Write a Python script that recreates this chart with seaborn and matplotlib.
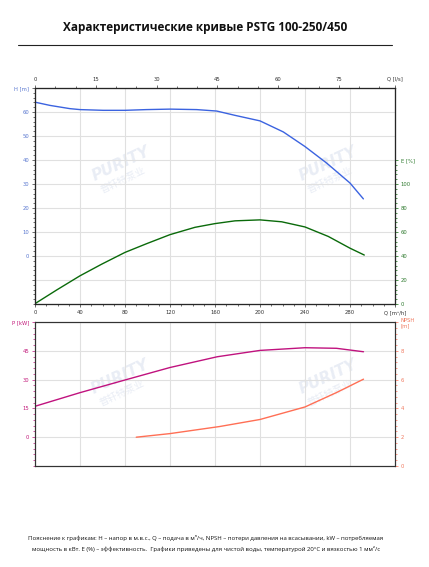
import matplotlib
matplotlib.use("Agg")
import matplotlib.pyplot as plt
from matplotlib.ticker import MultipleLocator, FixedLocator
from matplotlib.lines import Line2D
import seaborn as sns
import pandas as pd

# ---------------- data ----------------
q_h = [0, 13.3, 31, 40, 60.7, 80, 99, 120, 143.7, 161.5, 177.8, 200, 220.7, 240, 259.3, 280, 291.9]
h_m = [64.1, 62.75, 61.4, 61.0, 60.7, 60.7, 61.0, 61.2, 61.0, 60.4, 58.6, 56.3, 51.7, 45.6, 38.7, 30.4, 23.8]

q_e = [0, 19.3, 40, 59.3, 80, 99.3, 120, 142.2, 160, 177.8, 200, 219.3, 240, 260.7, 280, 292.7]
e_pct = [0.3, 11.7, 23.5, 33.2, 43.0, 50.3, 57.8, 63.9, 67.0, 69.3, 70.1, 68.5, 64.2, 56.3, 46.5, 40.8]

q_p = [0, 40, 80, 120, 162, 200, 240, 268, 292]
p_kw = [16.1, 23.2, 29.8, 36.3, 41.9, 45.2, 46.6, 46.3, 44.5]

q_n = [90, 120, 164, 200, 240, 268, 292]
npsh_m = [2.0, 2.25, 2.74, 3.23, 4.1, 5.1, 6.03]

q_ticks = [0, 40, 80, 120, 160, 200, 240, 280]
ls_ticks = [0, 15, 30, 45, 60, 75]
h_ticks = [0, 10, 20, 30, 40, 50, 60]
e_ticks = [0, 20, 40, 60, 80, 100]
p_ticks = [0, 15, 30, 45]
n_ticks = [0, 2, 4, 6, 8]

title = "Характеристические кривые PSTG 100-250/450"
foot1 = ("Пояснение к графикам: H – напор в м.в.с., Q – подача в м³/ч, NPSH – потери давления "
         "на всасывании, kW – потребляемая")
foot2 = ("мощность в кВт. E (%) – эффективность.  Графики приведены для чистой воды, "
         "температурой 20°C и вязкостью 1 мм²/с")

# ---------------- style ----------------
sns.set_style("white")
plt.rcParams["font.family"] = ["DejaVu Sans"]

C_H = "#3b63e0"
C_E = "#0a6a0a"
C_P = "#c0127e"
C_N = "#ff6f55"
C_HT = "#5a78d0"
C_ET = "#2f7a2f"
C_PT = "#c2187a"
C_NT = "#f07a60"
GRID = "#e0e0e0"
SP = "#333333"
FS = 3.8

W, H = 429, 567
fig = plt.figure(figsize=(W / 100, H / 100), dpi=100)

def fx(px):
    return px / W

def fy(py):
    return 1 - py / H

QMAX = 320

# ---------------- watermarks (behind everything) ----------------
for cx, cy in [(113, 170), (320, 170), (112, 383), (320, 383)]:
    fig.text(fx(cx + 8), fy(cy - 6), "PURITY", fontsize=11, fontweight="bold", style="italic",
             color="#e9edf5", rotation=25, ha="center", va="center", zorder=-5)
    fig.text(fx(cx + 10), fy(cy + 10), "普轩特泵业", fontsize=7,
             family=["Noto Sans CJK SC", "DejaVu Sans"],
             color="#e9edf5", rotation=25, ha="center", va="center", zorder=-5)

# ---------------- top chart ----------------
ax1 = fig.add_axes([fx(35), fy(304), fx(395) - fx(35), fy(88) - fy(304)])
ax1.patch.set_alpha(0)
ax1.set_xlim(0, QMAX)
ax1.set_ylim(-20, 70)
df_h = pd.DataFrame({"Q": q_h, "H": h_m})
sns.lineplot(data=df_h, x="Q", y="H", ax=ax1, color=C_H, lw=1.0, sort=False)
ax1.set_xlabel("")
ax1.set_ylabel("")
ax1.xaxis.set_major_locator(FixedLocator(q_ticks + [QMAX]))
ax1.set_xticklabels([str(t) for t in q_ticks] + ["Q [m³/h]"])
ax1.xaxis.set_minor_locator(MultipleLocator(10))
ax1.yaxis.set_major_locator(FixedLocator([-10] + h_ticks + [70]))
ax1.set_yticklabels([""] + [str(t) for t in h_ticks] + ["H [m]"])
ax1.yaxis.set_minor_locator(MultipleLocator(2))
ax1.grid(True, which="major", color=GRID, lw=0.8)
ax1.set_axisbelow(True)
ax1.tick_params(axis="x", which="both", direction="out", labelsize=FS, colors=SP, pad=2,
                length=2.5, width=0.5)
ax1.tick_params(axis="x", which="minor", length=1.5)
ax1.tick_params(axis="y", which="both", direction="out", labelsize=FS, colors=SP,
                labelcolor=C_HT, pad=1.5, length=2.5, width=0.5)
ax1.tick_params(axis="y", which="minor", length=1.5)
for s in ax1.spines.values():
    s.set_color(SP)
    s.set_linewidth(0.8)

ax1e = ax1.twinx()
ax1e.set_ylim(0, 180)
df_e = pd.DataFrame({"Q": q_e, "E": e_pct})
sns.lineplot(data=df_e, x="Q", y="E", ax=ax1e, color=C_E, lw=1.0, sort=False)
ax1e.set_xlabel("")
ax1e.set_ylabel("")
ax1e.yaxis.set_major_locator(FixedLocator(e_ticks + [120]))
ax1e.set_yticklabels([str(t) for t in e_ticks] + ["E [%]"])
ax1e.yaxis.set_minor_locator(FixedLocator([v for v in range(0, 124, 4)]))
ax1e.tick_params(axis="y", which="both", direction="out", labelsize=FS, colors=C_E,
                 labelcolor=C_ET, pad=1.5, length=2.5, width=0.5)
ax1e.tick_params(axis="y", which="minor", length=1.5)
ax1e.grid(False)
for s in ax1e.spines.values():
    s.set_color(SP)
    s.set_linewidth(0.8)

ax1t = ax1.twiny()
ax1t.set_xlim(0, QMAX / 3.6)
ax1t.xaxis.set_major_locator(FixedLocator(ls_ticks + [QMAX / 3.6]))
ax1t.set_xticklabels([str(t) for t in ls_ticks] + ["Q [l/s]"])
ax1t.xaxis.set_minor_locator(MultipleLocator(5))
ax1t.tick_params(axis="x", which="both", direction="out", labelsize=FS, colors=SP, pad=2,
                 length=2.5, width=0.5)
ax1t.tick_params(axis="x", which="minor", length=1.5)
ax1t.grid(False)

# ---------------- bottom chart ----------------
ax2 = fig.add_axes([fx(35), fy(466), fx(395) - fx(35), fy(322) - fy(466)])
ax2.patch.set_alpha(0)
ax2.set_xlim(0, QMAX)
ax2.set_ylim(-15, 60)
df_p = pd.DataFrame({"Q": q_p, "P": p_kw})
sns.lineplot(data=df_p, x="Q", y="P", ax=ax2, color=C_P, lw=1.0, sort=False)
ax2.set_xlabel("")
ax2.set_ylabel("")
ax2.xaxis.set_major_locator(FixedLocator(q_ticks))
ax2.set_xticklabels([])
ax2.xaxis.set_minor_locator(MultipleLocator(10))
ax2.yaxis.set_major_locator(FixedLocator(p_ticks + [60]))
ax2.set_yticklabels([str(t) for t in p_ticks] + ["P [kW]"])
ax2.yaxis.set_minor_locator(MultipleLocator(3))
ax2.grid(True, which="major", color=GRID, lw=0.8)
ax2.set_axisbelow(True)
ax2.tick_params(axis="x", which="both", direction="out", colors=SP, length=2.5, width=0.5)
ax2.tick_params(axis="x", which="minor", length=1.5)
ax2.tick_params(axis="y", which="both", direction="out", labelsize=FS, colors=C_P,
                labelcolor=C_PT, pad=1.5, length=2.5, width=0.5)
ax2.tick_params(axis="y", which="minor", length=1.5)
for s in ax2.spines.values():
    s.set_color(SP)
    s.set_linewidth(0.8)

ax2n = ax2.twinx()
ax2n.set_ylim(0, 10)
df_n = pd.DataFrame({"Q": q_n, "N": npsh_m})
sns.lineplot(data=df_n, x="Q", y="N", ax=ax2n, color=C_N, lw=1.0, sort=False)
ax2n.set_xlabel("")
ax2n.set_ylabel("")
ax2n.yaxis.set_major_locator(FixedLocator(n_ticks + [10]))
ax2n.set_yticklabels([str(t) for t in n_ticks] + ["NPSH\n[m]"])
ax2n.yaxis.set_minor_locator(MultipleLocator(0.4))
ax2n.tick_params(axis="y", which="both", direction="out", labelsize=FS, colors=C_N,
                 labelcolor=C_NT, pad=1.5, length=2.5, width=0.5)
ax2n.tick_params(axis="y", which="minor", length=1.5)
ax2n.grid(False)
for s in ax2n.spines.values():
    s.set_color(SP)
    s.set_linewidth(0.8)

# ---------------- title, rule, footer ----------------
fig.text(fx(205), fy(27), title, ha="center", va="center", fontsize=8.5, fontweight="bold",
         family=["Open Sans", "DejaVu Sans"], color="#111111")
fig.add_artist(Line2D([fx(18), fx(392)], [fy(45), fy(45)], color="#222222", lw=0.8))
fig.text(fx(206), fy(538), foot1, ha="center", va="center", fontsize=4.3,
         family=["Open Sans", "DejaVu Sans"], color="#111111")
fig.text(fx(206), fy(549), foot2, ha="center", va="center", fontsize=4.3,
         family=["Open Sans", "DejaVu Sans"], color="#111111")

fig.savefig("out.png", dpi=100, facecolor="white")
